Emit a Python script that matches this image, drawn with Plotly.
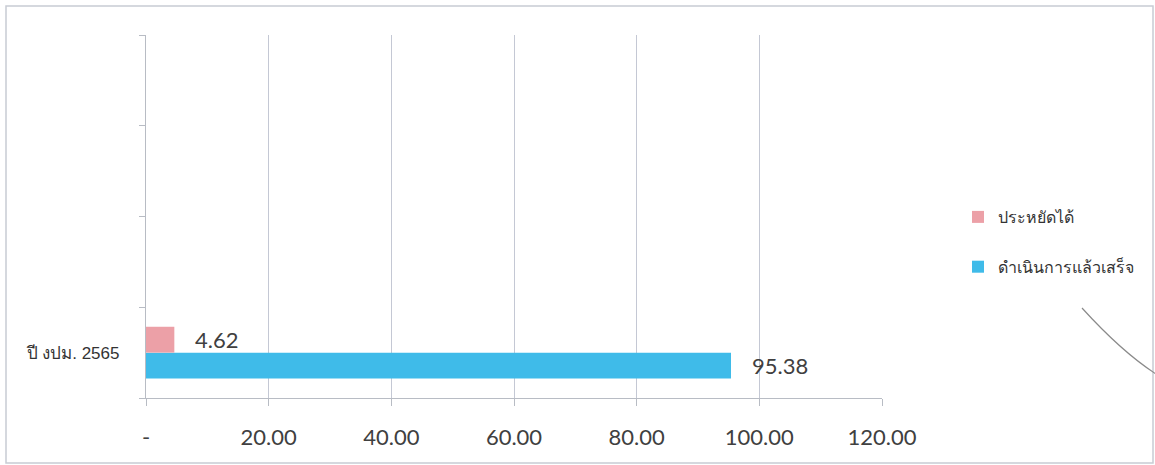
import plotly.graph_objects as go

# Budget-year data (percent)
categories = ["ปี งปม. 2565"]
series_names = ["ประหยัดได้", "ดำเนินการแล้วเสร็จ"]
saved_values = [4.62]
completed_values = [95.38]
x_tick_values = [0, 20, 40, 60, 80, 100, 120]
x_tick_labels = ["-", "20.00", "40.00", "60.00", "80.00", "100.00", "120.00"]

PINK = "#eca0a7"
BLUE = "#3fbbe9"
GRID = "#c4c8d4"
TEXT = "#404040"
FONT = "Lato, 'Noto Sans', sans-serif"
CAT_FONT = "'Liberation Sans', Arial, 'Noto Sans', sans-serif"

W, H = 1155, 465
L, R, T, B = 146, 273, 35, 67
N_SLOTS = 4
BARGAP = 0.43
BAR_W = (1 - BARGAP) / 2

ypos = list(range(len(categories)))


def px_x(px):
    return (px - L) / (W - L - R)


def px_y(py):
    return (H - B - py) / (H - T - B)


fig = go.Figure()
# completed first so it sits below in the group
fig.add_trace(go.Bar(
    y=ypos, x=completed_values, orientation="h", name=series_names[1],
    marker=dict(color=BLUE, line=dict(width=0)), legendgroup="b",
    legendrank=2,
))
fig.add_trace(go.Bar(
    y=ypos, x=saved_values, orientation="h", name=series_names[0],
    marker=dict(color=PINK, line=dict(width=0)), legendgroup="a",
    legendrank=1,
))

annotations = []
for i, (s, c) in enumerate(zip(saved_values, completed_values)):
    annotations.append(dict(x=s, y=ypos[i] + BAR_W / 2, xref="x", yref="y",
                            text=f"{s:.2f}", showarrow=False, xanchor="left",
                            xshift=19, font=dict(family=FONT, size=22, color=TEXT)))
    annotations.append(dict(x=c, y=ypos[i] - BAR_W / 2, xref="x", yref="y",
                            text=f"{c:.2f}", showarrow=False, xanchor="left",
                            xshift=19, font=dict(family=FONT, size=22, color=TEXT)))

shapes = [
    # outer chart frame
    dict(type="rect", xref="paper", yref="paper",
         x0=px_x(6), x1=px_x(1153), y0=px_y(463), y1=px_y(6),
         line=dict(color="#c8ccd4", width=1.5), layer="below"),
    # thin curved stroke at the right edge
    dict(type="path", xref="paper", yref="paper",
         path=f"M {px_x(1082)} {px_y(308)} Q {px_x(1122)} {px_y(352)} {px_x(1156)} {px_y(374)}",
         line=dict(color="#8a8a8a", width=1.2)),
]

fig.update_layout(
    width=W, height=H,
    margin=dict(l=L, r=R, t=T, b=B),
    paper_bgcolor="white", plot_bgcolor="white",
    barmode="group", bargap=BARGAP, bargroupgap=0,
    font=dict(family=FONT, color=TEXT),
    showlegend=True,
    legend=dict(x=px_x(958), y=px_y(200), xanchor="left", yanchor="top",
                traceorder="grouped", tracegroupgap=26,
                font=dict(family=FONT, size=16, color="#333333"),
                bgcolor="rgba(0,0,0,0)"),
    annotations=annotations,
    shapes=shapes,
    xaxis=dict(
        range=[0, 120], tickvals=x_tick_values, ticktext=x_tick_labels,
        showgrid=True, gridcolor=GRID, gridwidth=1.2,
        showline=True, linecolor="#b8bcc4", linewidth=1.2,
        ticks="outside", ticklen=7, tickcolor="#b8bcc4",
        tickfont=dict(family=FONT, size=22, color=TEXT),
        ticklabelstandoff=12, zeroline=False,
    ),
    yaxis=dict(
        range=[-0.5, N_SLOTS - 0.5], tickvals=ypos, ticktext=categories,
        ticks="", showgrid=False, zeroline=False,
        showline=True, linecolor="#b8bcc4", linewidth=1.2,
        tickfont=dict(family=CAT_FONT, size=17, color="#333333"),
        ticklabelstandoff=22,
        minor=dict(tickvals=[k - 0.5 for k in range(N_SLOTS + 1)],
                   ticks="outside", ticklen=6, tickcolor="#b8bcc4", showgrid=False),
    ),
)

fig.write_html("out.html")
